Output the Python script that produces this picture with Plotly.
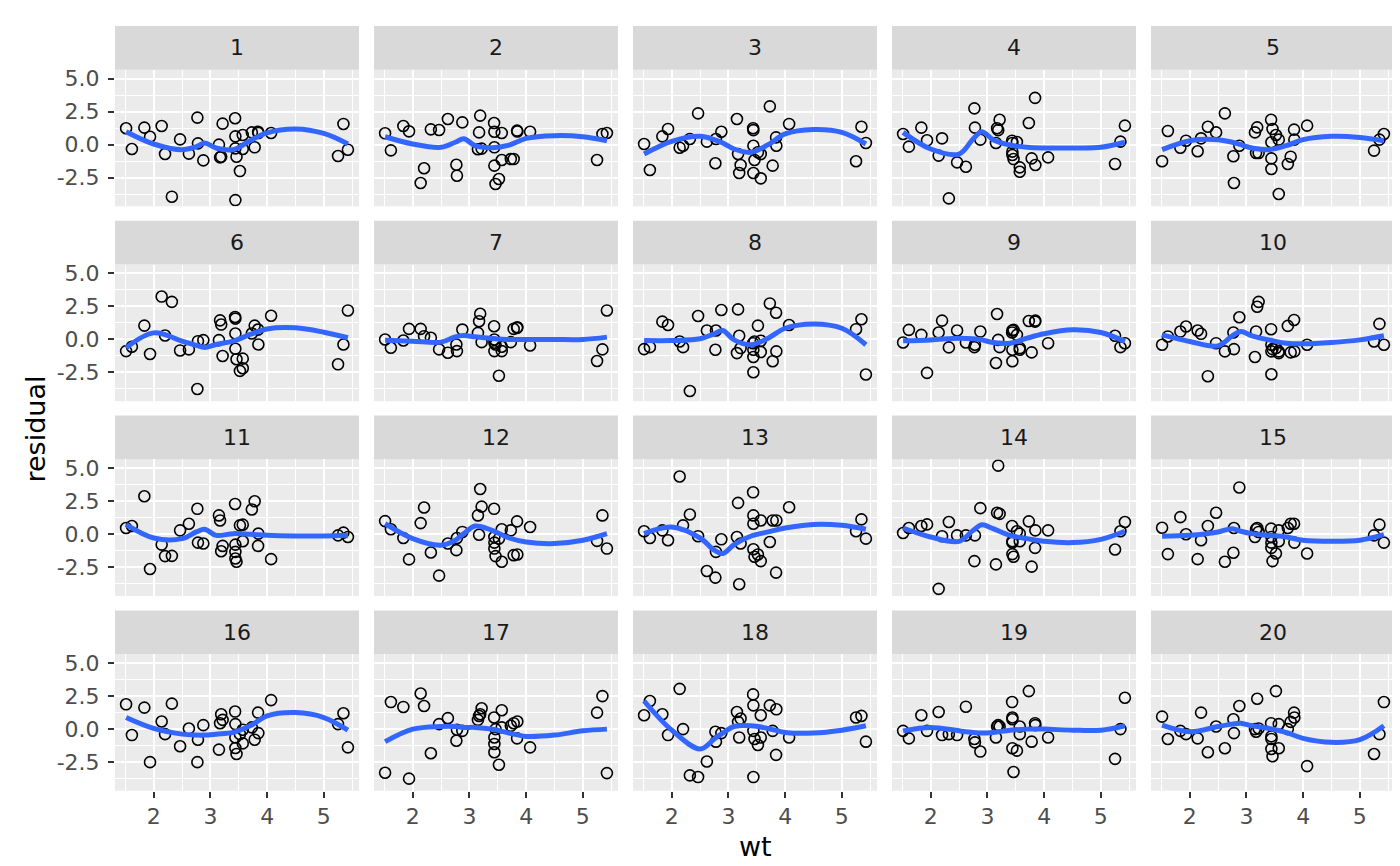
import plotly.graph_objects as go
from plotly.subplots import make_subplots

# mtcars weights, sorted; every panel shares them
wt = [1.513, 1.615, 1.835, 1.935, 2.140, 2.200, 2.320, 2.465, 2.620, 2.770,
      2.780, 2.875, 3.150, 3.170, 3.190, 3.215, 3.435, 3.440, 3.440, 3.440,
      3.460, 3.520, 3.570, 3.570, 3.730, 3.780, 3.840, 3.845, 4.070, 5.250,
      5.345, 5.424]

# residuals per panel, in wt order
res_01 = [1.24, -0.33, 1.29, 0.6, 1.41, -0.71, -3.94, 0.40, -0.68, 2.05, 0.1, -1.19, 0.0, -0.96, -0.91, 1.59,
          2.0, 0.63, -0.28, -4.2, -0.91, -2.0, 0.73, -0.33, 0.93, -0.2, 0.98, 0.88, 0.88, -0.86, 1.57, -0.38]
res_02 = [0.86, -0.43, 1.41, 1.01, -2.9, -1.79, 1.16, 1.11, 1.94, -1.52, -2.35, 1.69, -0.35, 0.93, 2.2, -0.3,
          1.64, 0.98, -0.2, -1.59, -2.98, -2.6, 0.88, -1.16, -1.09, -1.09, 1.06, 1.0, 0.98, -1.16, 0.81, 0.88]
res_03 = [0.05, -1.92, 0.63, 1.19, -0.23, -0.08, 0.43, 2.37, 0.23, -1.41, 0.43, 0.98, 1.94, -0.71, -2.15, -1.54,
          1.24, 1.1, -0.08, -2.15, -1.16, -0.58, -2.55, -0.71, 2.9, -1.59, 0.55, -0.08, 1.57, -1.26, 1.36, 0.13]
res_04 = [0.81, -0.15, 1.29, 0.33, -0.83, 0.48, -4.07, -1.34, -1.67, 2.75, 1.29, 0.38, 0.13, 1.24, 1.1, 1.89,
          0.3, 0.13, -0.53, -0.78, -1.09, 0.2, -1.72, -2.05, 1.64, -1.04, 3.54, -1.54, -0.96, -1.46, 0.23, 1.44]
res_05 = [-1.26, 1.04, -0.23, 0.3, -0.5, 0.48, 1.36, 0.93, 2.37, -0.88, -2.9, -0.08, 0.93, -0.63, 1.31, -0.63,
          1.89, 0.18, -1.04, -1.84, 1.19, 0.73, -3.74, 0.38, -1.46, -0.91, 1.14, 0.38, 1.44, -0.45, 0.38, 0.81]
res_06 = [-0.88, -0.55, 1.05, -1.1, 3.25, 0.3, 2.85, -0.83, -0.75, -3.75, -0.13, -0.05, -0.05, 1.45, 1.13, -1.25,
          1.7, 1.58, 0.45, -0.7, -1.5, -2.38, -2.18, -1.45, 0.45, 1.05, 0.75, -0.38, 1.8, -1.88, -0.38, 2.2]
res_07 = [0.0, -0.63, -0.08, 0.8, 0.8, 0.25, 0.13, -0.75, -1.0, -0.38, -0.88, 0.75, 0.5, 1.38, 1.95, -0.2,
          1.0, 0.0, -0.25, -0.88, -0.38, -2.75, -0.88, -0.55, -0.2, 0.8, 0.88, 0.93, -0.45, -1.63, -0.75, 2.2]
res_08 = [-0.73, -0.58, 1.35, 1.1, -0.15, -0.58, -3.9, 1.78, 0.68, -0.78, 0.68, 2.23, -1.03, 2.28, 0.28, -0.65,
          -0.28, -1.33, -2.48, -0.78, -0.15, 1.05, -0.95, -0.1, 2.73, -1.65, 2.03, -0.9, 1.1, 0.78, 1.53, -2.65]
res_09 = [-0.23, 0.73, 0.35, -2.53, 0.53, 1.43, -0.6, 0.68, -0.23, -0.58, -0.4, 0.6, -1.78, 1.93, -0.03, -0.58,
          0.53, 0.68, -0.78, -1.65, 0.73, 0.35, -0.78, -0.65, 1.4, -0.98, 1.35, 1.43, -0.28, 0.28, -0.58, -0.28]
res_10 = [-0.4, 0.23, 0.6, 0.98, 0.68, 0.43, -2.78, -0.28, -0.9, 0.53, -0.73, 1.68, -1.33, 0.6, 2.48, 2.85,
          0.78, -0.4, -0.9, -2.63, -0.73, -0.65, -0.9, -1.03, 1.03, -0.98, 1.48, -0.9, -0.4, -0.15, 1.18, -0.4]
res_11 = [0.48, 0.63, 2.88, -2.63, -0.78, -1.65, -1.63, 0.3, 0.8, 1.93, -0.63, -0.7, 1.43, 1.05, -1.28, -0.88,
          2.3, -0.78, -1.33, -1.83, -2.08, 0.68, 0.73, -0.53, 1.88, 2.5, -0.88, 0.05, -1.88, -0.08, 0.13, -0.2]
res_12 = [1.0, 0.38, -0.28, -1.9, 0.85, 2.03, -1.38, -3.13, -0.7, -1.2, -0.28, 0.18, 1.43, -0.03, 3.43, 2.1,
          1.93, -0.2, -0.63, -1.08, -1.65, -0.33, -2.08, 0.38, 0.3, -1.58, 0.98, -1.53, 0.55, -0.5, 1.43, -1.08]
res_13 = [0.23, -0.28, 0.3, -0.45, 4.38, 0.68, 1.5, -0.15, -2.78, -3.28, -1.33, -0.38, -0.2, 2.38, -3.78, -0.7,
          3.18, 1.43, 0.8, -1.13, -1.7, -1.53, -2.03, 1.05, -0.58, 1.05, -2.9, 1.05, 2.05, 0.23, 1.13, -0.33]
res_14 = [0.1, 0.48, 0.63, 0.75, -4.13, -0.15, 0.93, -0.08, -0.08, -2.03, -0.08, 1.98, -2.28, 1.63, 5.2, 1.55,
          0.63, -0.53, -0.63, -1.5, -1.7, 0.23, 0.05, -0.53, 0.98, -2.45, -1.03, 0.3, 0.3, -1.15, 0.23, 0.93]
res_15 = [0.5, -1.5, 1.3, 0.0, -1.88, -0.45, 0.63, 1.63, -2.08, -1.4, 0.48, 3.55, -0.2, 0.38, 0.48, 0.18,
          0.43, -0.2, -0.63, -1.03, -2.03, -1.45, 0.3, -0.53, 0.48, 0.8, 0.8, -0.63, -1.45, -0.08, 0.73, -0.63]
res_16 = [1.88, -0.45, 1.63, -2.5, 0.58, -0.38, 1.93, -1.3, 0.05, -2.5, -0.8, 0.3, -1.55, 0.45, 1.13, 0.7,
          1.33, 0.38, -0.63, -1.43, -1.88, -0.38, -0.05, -1.08, 0.13, -0.8, 1.25, -0.3, 2.2, 0.38, 1.2, -1.38]
res_17 = [-3.3, 2.05, 1.68, -3.75, 2.7, 1.75, -1.83, 0.38, 0.83, -0.88, -0.05, -0.13, 0.7, 1.0, 1.13, 1.58,
          0.88, -0.63, -1.13, -1.75, 0.0, -2.7, 1.43, 0.13, 0.25, 0.45, -0.7, 0.58, -1.38, 1.25, 2.5, -3.33]
res_18 = [1.05, 2.13, 1.13, -0.45, 3.05, 0.0, -3.5, -3.63, -2.45, -0.2, -0.95, -0.3, 1.3, 0.55, -0.63, 0.8,
          2.63, 1.8, -0.13, -3.63, -0.75, -1.2, 1.05, -0.63, 1.8, -0.13, -1.95, 1.5, -0.63, 0.88, 1.0, -0.95]
res_19 = [-0.13, -0.7, 1.05, -0.13, 1.3, -0.45, -0.38, -0.45, 1.7, -0.75, -1.0, -1.7, -0.63, 0.2, 0.3, 0.2,
          2.05, 0.88, 0.75, -1.45, -3.25, -1.63, -0.38, 0.2, 2.88, -0.95, 0.45, 0.3, -0.63, -2.25, 0.0, 2.38]
res_20 = [0.95, -0.75, -0.13, -0.38, -0.7, 1.25, -1.75, 0.2, -1.45, 0.75, -0.3, 1.75, 0.0, -0.2, 2.3, 0.05,
          0.45, -0.55, -0.75, -1.5, -2.05, 2.88, -1.45, 0.38, 0.0, 0.55, 1.25, 0.88, -2.8, -1.88, -0.38, 2.05]

# loess curve per panel, read at these wt positions
smooth_x = [1.513, 2.0, 2.5, 2.75, 2.9, 3.1, 3.4, 3.7, 4.0, 4.5, 5.0, 5.424]
sm_01 = [0.98, 0.05, -0.38, -0.15, 0.12, -0.25, -0.38, 0.3, 0.9, 1.19, 0.85, 0.05]
sm_02 = [0.6, 0.05, -0.2, 0.18, 0.45, -0.08, -0.23, -0.03, 0.48, 0.68, 0.6, 0.3]
sm_03 = [-0.71, 0.25, 0.63, 0.38, 0.13, -0.33, -0.58, 0.0, 0.81, 1.14, 0.93, 0.05]
sm_04 = [0.93, -0.33, -0.71, 0.45, 0.98, 0.38, -0.03, -0.2, -0.25, -0.25, -0.2, 0.18]
sm_05 = [-0.38, 0.3, 0.38, 0.18, 0.0, -0.25, -0.38, -0.08, 0.38, 0.63, 0.55, 0.3]
sm_06 = [-0.63, 0.5, -0.13, -0.45, -0.6, -0.38, -0.13, 0.38, 0.8, 0.88, 0.55, 0.13]
sm_07 = [-0.05, -0.13, -0.2, 0.2, 0.3, 0.2, 0.08, 0.0, 0.0, 0.0, 0.0, 0.18]
sm_08 = [-0.08, -0.08, 0.05, 0.43, 0.68, -0.03, -0.4, 0.1, 0.85, 1.18, 0.85, -0.4]
sm_09 = [-0.1, -0.03, 0.1, 0.05, -0.03, -0.23, -0.28, 0.1, 0.43, 0.73, 0.53, -0.15]
sm_10 = [0.35, -0.15, -0.48, 0.28, 0.6, 0.28, -0.03, -0.28, -0.33, -0.23, -0.03, 0.28]
sm_11 = [0.73, -0.28, -0.33, 0.18, 0.38, -0.08, 0.05, 0.0, -0.08, -0.13, -0.13, -0.08]
sm_12 = [0.8, -0.33, -0.83, -0.45, 0.05, 0.63, 0.3, -0.28, -0.58, -0.7, -0.45, 0.05]
sm_13 = [0.05, 0.55, -0.28, -1.2, -1.45, -0.78, -0.13, 0.18, 0.48, 0.75, 0.68, 0.38]
sm_14 = [0.48, -0.2, -0.53, 0.3, 0.73, 0.43, -0.08, -0.33, -0.53, -0.63, -0.38, 0.23]
sm_15 = [-0.15, -0.08, 0.18, 0.43, 0.23, 0.05, -0.08, -0.2, -0.45, -0.53, -0.45, -0.03]
sm_16 = [0.88, 0.05, -0.38, -0.45, -0.45, -0.38, -0.25, 0.25, 1.0, 1.25, 0.88, -0.08]
sm_17 = [-0.95, 0.0, 0.2, 0.2, 0.13, 0.13, 0.0, -0.3, -0.55, -0.45, -0.13, 0.0]
sm_18 = [2.13, -0.08, -1.5, -0.75, -0.3, 0.2, 0.25, 0.05, -0.25, -0.3, -0.08, 0.25]
sm_19 = [-0.13, 0.13, -0.13, -0.25, -0.3, -0.25, -0.08, 0.0, 0.0, -0.08, -0.08, 0.25]
sm_20 = [0.3, -0.2, 0.2, 0.38, 0.45, 0.25, 0.05, -0.25, -0.7, -1.0, -0.8, 0.25]

residuals = [res_01, res_02, res_03, res_04, res_05, res_06, res_07, res_08, res_09, res_10,
             res_11, res_12, res_13, res_14, res_15, res_16, res_17, res_18, res_19, res_20]
smooths = [sm_01, sm_02, sm_03, sm_04, sm_05, sm_06, sm_07, sm_08, sm_09, sm_10,
           sm_11, sm_12, sm_13, sm_14, sm_15, sm_16, sm_17, sm_18, sm_19, sm_20]

x_ticks = [2, 3, 4, 5]
y_ticks = [-2.5, 0.0, 2.5, 5.0]
y_ticktext = ['-2.5', '0.0', '2.5', '5.0']

W, H = 1400, 866
FONT = 'DejaVu Sans'
n_rows, n_cols = 4, 5

# ggplot-style 5% expansion of the data range
def expand(lo, hi, frac=0.05):
    pad = (hi - lo) * frac
    return [lo - pad, hi + pad]

x_range = expand(min(wt), max(wt))
all_res = [v for r in residuals for v in r]
y_range = expand(min(all_res), max(all_res))

fig = make_subplots(rows=n_rows, cols=n_cols)

shapes = []
annotations = []
for i in range(20):
    r, c = divmod(i, n_cols)
    left = 107 + c * 259
    right = left + 244
    strip_top = 15 + r * 195.5
    top = 59 + r * 195.5
    bottom = 196 + r * 195.5

    fig.add_trace(go.Scatter(
        x=wt, y=residuals[i], mode='markers',
        marker=dict(symbol='circle-open', size=11, color='black',
                    line=dict(width=1.6)),
        showlegend=False, hoverinfo='x+y'), row=r + 1, col=c + 1)
    fig.add_trace(go.Scatter(
        x=smooth_x, y=smooths[i], mode='lines',
        line=dict(color='#3366FF', width=5, shape='spline', smoothing=1.0),
        showlegend=False, hoverinfo='skip'), row=r + 1, col=c + 1)

    fig.update_xaxes(
        domain=[left / W, right / W], range=x_range,
        tickvals=x_ticks, ticktext=[str(t) for t in x_ticks],
        showticklabels=(r == n_rows - 1),
        ticks='outside' if r == n_rows - 1 else '',
        ticklen=6, tickwidth=2, tickcolor='#333333',
        tickfont=dict(family=FONT, size=22, color='#4D4D4D'),
        showgrid=True, gridcolor='white', gridwidth=2.4,
        minor=dict(tickvals=[1.5, 2.5, 3.5, 4.5, 5.5], showgrid=True,
                   gridcolor='white', gridwidth=1.2, ticks=''),
        zeroline=False, showline=False,
        row=r + 1, col=c + 1)
    fig.update_yaxes(
        domain=[1 - bottom / H, 1 - top / H], range=y_range,
        tickvals=y_ticks, ticktext=y_ticktext,
        showticklabels=(c == 0),
        ticks='outside' if c == 0 else '',
        ticklen=6, tickwidth=2, tickcolor='#333333', ticklabelstandoff=4,
        tickfont=dict(family=FONT, size=22, color='#4D4D4D'),
        showgrid=True, gridcolor='white', gridwidth=2.4,
        minor=dict(tickvals=[-3.75, -1.25, 1.25, 3.75], showgrid=True,
                   gridcolor='white', gridwidth=1.2, ticks=''),
        zeroline=False, showline=False,
        row=r + 1, col=c + 1)

    # facet strip
    shapes.append(dict(
        type='rect', xref='paper', yref='paper', layer='below',
        x0=left / W, x1=right / W, y0=1 - top / H, y1=1 - strip_top / H,
        fillcolor='#D9D9D9', line=dict(width=0)))
    annotations.append(dict(
        text=str(i + 1), xref='paper', yref='paper', showarrow=False,
        x=(left + right) / 2 / W, y=1 - (strip_top + top) / 2 / H,
        xanchor='center', yanchor='middle',
        font=dict(family=FONT, size=22, color='#1A1A1A')))

annotations.append(dict(
    text='wt', xref='paper', yref='paper', showarrow=False,
    x=747 / W, y=1 - 838 / H, xanchor='center', yanchor='middle',
    font=dict(family=FONT, size=27, color='black')))
annotations.append(dict(
    text='residual', xref='paper', yref='paper', showarrow=False,
    x=28 / W, y=1 - 420 / H, textangle=-90, xanchor='center', yanchor='middle',
    font=dict(family=FONT, size=27, color='black')))

fig.update_layout(
    width=W, height=H,
    margin=dict(l=0, r=0, t=0, b=0),
    paper_bgcolor='white', plot_bgcolor='#EBEBEB',
    shapes=shapes, annotations=annotations,
    showlegend=False,
)

fig.write_html('out.html')
